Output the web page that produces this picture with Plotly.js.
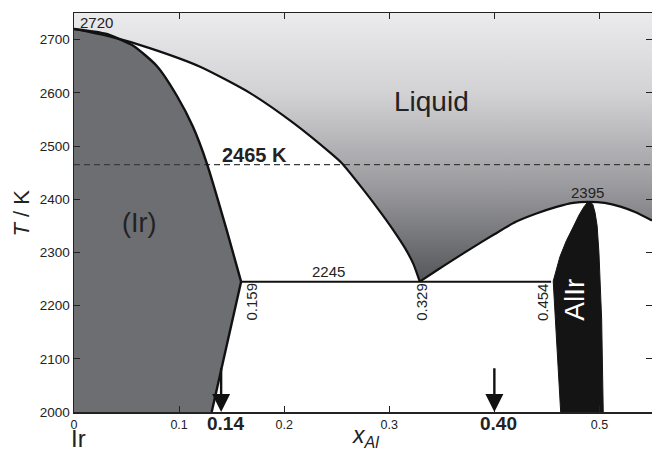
<!DOCTYPE html>
<html>
<head>
<meta charset="utf-8">
<script src="https://cdn.plot.ly/plotly-3.0.1.min.js"></script>
<style>html,body{margin:0;padding:0;background:#fff;}#chart{width:652px;height:451px;}</style>
</head>
<body>
<div id="chart"></div>
<script>
// ---- data ----
const xMin = 0, xMax = 0.55, tMin = 2000, tMax = 2750;
const xTickVals = [0, 0.1, 0.2, 0.3, 0.4, 0.5];
const xTickText = ['0', '0.1', '0.2', '0.3', '', '0.5'];
const tTickVals = [2000, 2100, 2200, 2300, 2400, 2500, 2600, 2700];

// liquidus, Ir side (from Ir melting point down to eutectic)
const liqLeftX = [0, 0.034, 0.072, 0.12, 0.168, 0.209, 0.244, 0.2547, 0.2753, 0.29, 0.3038, 0.315, 0.323, 0.329];
const liqLeftT = [2720, 2706, 2684, 2649, 2599, 2543, 2487, 2468, 2418, 2380, 2342, 2308, 2278, 2245];
// liquidus, AlIr side (eutectic -> congruent maximum -> right edge)
const liqRightX = [0.329, 0.345, 0.36, 0.38, 0.40, 0.42, 0.44, 0.46, 0.475, 0.489, 0.505, 0.52, 0.535, 0.55];
const liqRightT = [2245, 2266, 2285, 2310, 2334, 2357, 2373, 2386, 2393, 2395, 2393, 2386, 2375, 2360];
// solidus of (Ir) (curved part, melting point -> eutectic)
const irSolidusX = [0, 0.03, 0.056, 0.079, 0.098, 0.113, 0.1263, 0.1453, 0.159];
const irSolidusT = [2720, 2711, 2689, 2650, 2594, 2537, 2468, 2342, 2245];
// solvus of (Ir) (eutectic -> bottom of chart)
const irSolvusX = [0.159, 0.131];
const irSolvusT = [2245, 2000];
// AlIr phase boundaries
const alirLeftX = [0.4631, 0.4577, 0.456, 0.4624, 0.4685, 0.4751, 0.4805, 0.485, 0.4875, 0.489];
const alirLeftT = [2000, 2173, 2246, 2292, 2322, 2348, 2370, 2385, 2392, 2395];
const alirRightX = [0.4915, 0.4937, 0.4958, 0.4978, 0.4995, 0.5005, 0.5021, 0.5036];
const alirRightT = [2394.5, 2390, 2375, 2350, 2300, 2248, 2173, 2000];

const meltIrT = 2720;
const eutecticT = 2245, eutecticX = 0.329;
const solvusX = 0.159, alirX = 0.454;
const congruentX = 0.489, congruentT = 2395;
const refLineT = 2465;
const arrowX = [0.14, 0.40];
const arrowLabels = ['0.14', '0.40'];
const arrowTopT = 2085;

// ---- traces ----
const FONT = 'Liberation Sans, Arial, Helvetica, sans-serif';

const liquidX = liqLeftX.concat(liqRightX.slice(1), [xMax, xMin]);
const liquidT = liqLeftT.concat(liqRightT.slice(1), [tMax, tMax]);

const irX = [xMin].concat(irSolidusX, irSolvusX.slice(1), [xMin]);
const irT = [tMin].concat(irSolidusT, irSolvusT.slice(1), [tMin]);

const alX = alirLeftX.concat(alirRightX);
const alT = alirLeftT.concat(alirRightT);

const SPL = { shape: 'spline', smoothing: 0.6 };
const traces = [
  { x: liquidX, y: liquidT, type: 'scatter', mode: 'lines', fill: 'toself',
    line: { width: 0, color: 'rgba(0,0,0,0)' },
    fillcolor: '#a0a0a4',
    fillgradient: { type: 'vertical',
      colorscale: [[0, '#55565a'], [0.35, '#9a9a9e'], [0.7, '#d2d2d5'], [1, '#ebebed']] },
    hoverinfo: 'skip', showlegend: false },
  { x: irX, y: irT, type: 'scatter', mode: 'lines', fill: 'toself',
    fillcolor: '#6d6e72', line: { width: 0, color: 'rgba(0,0,0,0)' },
    hoverinfo: 'skip', showlegend: false },
  { x: alX, y: alT, type: 'scatter', mode: 'lines', fill: 'toself',
    fillcolor: '#141414', line: { width: 1, color: '#141414' },
    hoverinfo: 'skip', showlegend: false },
  { x: [xMin, xMax], y: [refLineT, refLineT], type: 'scatter', mode: 'lines',
    line: { width: 1.4, color: '#3a3a3a', dash: '6px,4px' }, hoverinfo: 'skip', showlegend: false },
  { x: liqLeftX, y: liqLeftT, type: 'scatter', mode: 'lines', line: Object.assign({ width: 2.2, color: '#111' }, SPL),
    hoverinfo: 'skip', showlegend: false },
  { x: liqRightX, y: liqRightT, type: 'scatter', mode: 'lines', line: Object.assign({ width: 2.2, color: '#111' }, SPL),
    hoverinfo: 'skip', showlegend: false },
  { x: irSolidusX, y: irSolidusT, type: 'scatter', mode: 'lines', line: Object.assign({ width: 2.4, color: '#111' }, SPL),
    hoverinfo: 'skip', showlegend: false },
  { x: irSolvusX, y: irSolvusT, type: 'scatter', mode: 'lines', line: { width: 2.4, color: '#111' },
    hoverinfo: 'skip', showlegend: false },
  { x: [solvusX, alirX], y: [eutecticT, eutecticT], type: 'scatter', mode: 'lines',
    line: { width: 2, color: '#111' }, hoverinfo: 'skip', showlegend: false }
];

// ---- annotations ----
const ann = [];
function txt(text, x, y, size, opts) {
  ann.push(Object.assign({ text: text, x: x, y: y, xref: 'x', yref: 'y', showarrow: false,
    xanchor: 'center', yanchor: 'middle',
    font: { family: FONT, size: size, color: '#222' } }, opts || {}));
}
txt('Liquid', 0.340, 2583, 28);
txt('(Ir)', 0.062, 2356, 27);
txt('<b>' + refLineT + ' K</b>', 0.172, 2483, 20);
txt(String(meltIrT), 0.0215, 2732, 15);
txt(String(congruentT), congruentX, 2413, 15);
txt(String(eutecticT), 0.242, 2265, 15);
txt(solvusX.toFixed(3), 0.169, 2207, 15, { textangle: -90 });
txt(eutecticX.toFixed(3), 0.331, 2207, 15, { textangle: -90 });
txt(alirX.toFixed(3), 0.4465, 2207, 15, { textangle: -90 });
txt('AlIr', 0.4767, 2211, 28, { textangle: -90, font: { family: FONT, size: 28, color: '#ffffff' } });

arrowX.forEach(function (ax, i) {
  ann.push({ x: ax, y: tMin, ax: ax, ay: arrowTopT, xref: 'x', yref: 'y', axref: 'x', ayref: 'y',
    showarrow: true, arrowhead: 2, arrowsize: 1.5, arrowwidth: 2.4, arrowcolor: '#111', text: '', standoff: 0 });
  ann.push({ text: '<b>' + arrowLabels[i] + '</b>', x: ax + 0.004, y: -0.03, xref: 'x', yref: 'paper',
    xanchor: 'center', yanchor: 'middle', showarrow: false, font: { family: FONT, size: 19, color: '#222' } });
});
ann.push({ text: 'Ir', x: -0.008, y: -0.066, xref: 'paper', yref: 'paper', xanchor: 'left', yanchor: 'middle',
  showarrow: false, font: { family: FONT, size: 24, color: '#222' } });
ann.push({ text: '<i>x</i><sub><i>Al</i></sub>', x: 0.2625, y: -0.062, xref: 'x', yref: 'paper',
  xanchor: 'left', yanchor: 'middle', showarrow: false, font: { family: FONT, size: 23, color: '#222' } });
ann.push({ text: '<i>T</i> / K', x: -0.09, y: 0.5, xref: 'paper', yref: 'paper', textangle: -90,
  xanchor: 'center', yanchor: 'middle',
  showarrow: false, font: { family: FONT, size: 22, color: '#222' } });

const layout = {
  width: 652, height: 451,
  margin: { l: 74, r: 0, t: 13, b: 39, pad: 0 },
  paper_bgcolor: '#ffffff', plot_bgcolor: '#ffffff',
  showlegend: false,
  font: { family: FONT, color: '#222' },
  xaxis: { range: [xMin, xMax], tickvals: xTickVals, ticktext: xTickText, ticks: 'inside', ticklen: 6,
    tickwidth: 1, tickcolor: '#222', showline: true, linecolor: '#222', linewidth: 1.5, mirror: 'ticks',
    showgrid: false, zeroline: false, tickfont: { family: FONT, size: 12.5, color: '#222' } },
  yaxis: { range: [tMin, tMax], tickvals: tTickVals, ticks: 'inside', ticklen: 6,
    tickwidth: 1, tickcolor: '#222', showline: true, linecolor: '#222', linewidth: 1.5, mirror: 'ticks',
    showgrid: false, zeroline: false, tickfont: { family: FONT, size: 13.5, color: '#222' } },
  annotations: ann
};

Plotly.newPlot('chart', traces, layout, { displayModeBar: false, staticPlot: true });
</script>
</body>
</html>
